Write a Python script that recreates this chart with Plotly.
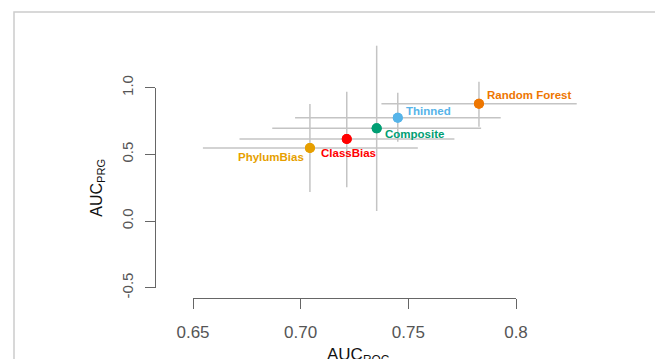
import plotly.graph_objects as go

# ---- data ----
methods = ["PhylumBias", "ClassBias", "Composite", "Thinned", "Random Forest"]
auc_roc = [0.7043, 0.7214, 0.7353, 0.7451, 0.7828]
auc_roc_lo = [0.6546, 0.6716, 0.6868, 0.6974, 0.7375]
auc_roc_hi = [0.7544, 0.7714, 0.7838, 0.7929, 0.8282]
auc_prg = [0.548, 0.615, 0.695, 0.775, 0.880]
auc_prg_lo = [0.218, 0.253, 0.075, 0.595, 0.707]
auc_prg_hi = [0.878, 0.970, 1.315, 0.963, 1.045]
colors = ["#E69F00", "#FF0000", "#009E73", "#56B4E9", "#EE7600"]
x_ticks = [0.65, 0.70, 0.75, 0.80]
x_ticktext = ["0.65", "0.70", "0.75", "0.8"]
y_ticks = [-0.5, 0.0, 0.5, 1.0]
y_ticktext = ["-0.5", "0.0", "0.5", "1.0"]
x_title = "AUC<sub>ROC</sub>"
y_title = "AUC<sub>PRG</sub>"

# label placement per method (style only)
lab_anchor = ["right", "center", "left", "left", "left"]
lab_xshift = [-4, 2, 6, 6, 6]
lab_yshift = [-9, -14, -6, 7, 9]

W, H = 655, 359
# pixel geometry
px_x065, px_x080 = 193, 516
px_y1, px_ym05 = 87.7, 287.7
sx = (px_x080 - px_x065) / 0.15
sy = (px_ym05 - px_y1) / 1.5
x_range = [0.65 - px_x065 / sx, 0.65 + (W - px_x065) / sx]
y_top = 1.0 + px_y1 / sy
y_range = [y_top - H / sy, y_top]

fig = go.Figure()
for i, m in enumerate(methods):
    fig.add_trace(go.Scatter(
        x=[auc_roc[i]], y=[auc_prg[i]], mode="markers", name=m,
        marker=dict(size=10, color=colors[i], line=dict(width=0)),
        error_x=dict(type="data", symmetric=False,
                     array=[auc_roc_hi[i] - auc_roc[i]],
                     arrayminus=[auc_roc[i] - auc_roc_lo[i]],
                     color="#c4c4c4", thickness=1.5, width=0),
        error_y=dict(type="data", symmetric=False,
                     array=[auc_prg_hi[i] - auc_prg[i]],
                     arrayminus=[auc_prg[i] - auc_prg_lo[i]],
                     color="#c4c4c4", thickness=1.5, width=0),
        showlegend=False, hoverinfo="skip",
    ))

# re-draw markers on top of all error bars
fig.add_trace(go.Scatter(x=auc_roc, y=auc_prg, mode="markers",
                         marker=dict(size=10, color=colors), showlegend=False,
                         hoverinfo="skip"))

# invisible carriers so the offset (R-style) axes get drawn
fig.add_trace(go.Scatter(x=auc_roc, y=auc_prg, xaxis="x2", yaxis="y", mode="markers",
                         marker=dict(opacity=0), showlegend=False, hoverinfo="skip"))
fig.add_trace(go.Scatter(x=auc_roc, y=auc_prg, xaxis="x", yaxis="y2", mode="markers",
                         marker=dict(opacity=0), showlegend=False, hoverinfo="skip"))

for i, m in enumerate(methods):
    fig.add_annotation(x=auc_roc[i], y=auc_prg[i], text="<b>%s</b>" % m,
                       showarrow=False, xanchor=lab_anchor[i], yanchor="middle",
                       xshift=lab_xshift[i], yshift=lab_yshift[i],
                       font=dict(family="Liberation Sans, Arial", size=11.5, color=colors[i]))

# x-axis title (R places it a fixed line below the offset axis)
fig.add_annotation(xref="paper", yref="paper", x=358 / W, y=1 - 343 / H,
                   xanchor="center", yanchor="top", text=x_title, showarrow=False,
                   font=dict(family="Liberation Sans, Arial", size=17, color="#111111"))

# outer frame
fig.add_shape(type="rect", xref="paper", yref="paper",
              x0=14 / W, x1=1.2, y0=-0.2, y1=1 - 12 / H,
              line=dict(color="#cccccc", width=1.5), fillcolor="rgba(0,0,0,0)", layer="below")

fig.update_layout(
    width=W, height=H, margin=dict(l=0, r=0, t=0, b=0, pad=0, autoexpand=False),
    paper_bgcolor="white", plot_bgcolor="rgba(0,0,0,0)", showlegend=False,
    font=dict(family="Liberation Sans, Arial", color="#555555"),
    xaxis=dict(domain=[0, 1], range=x_range, visible=False, fixedrange=True, automargin=False),
    yaxis=dict(domain=[0, 1], range=y_range, visible=False, fixedrange=True, automargin=False),
    xaxis2=dict(domain=[px_x065 / W, px_x080 / W], range=[0.65, 0.80], automargin=False,
                anchor="free", position=1 - 298 / H, side="bottom", fixedrange=True,
                showline=True, linecolor="#666666", linewidth=1,
                ticks="outside", ticklen=10, tickwidth=1, tickcolor="#666666",
                tickvals=x_ticks, ticktext=x_ticktext, showgrid=False, zeroline=False,
                tickfont=dict(size=17, color="#555555"), ticklabelstandoff=9),
    yaxis2=dict(domain=[1 - px_ym05 / H, 1 - px_y1 / H], range=[-0.5, 1.0], automargin=False,
                anchor="free", position=155 / W, side="left", fixedrange=True,
                showline=True, linecolor="#666666", linewidth=1,
                ticks="outside", ticklen=10, tickwidth=1, tickcolor="#666666",
                tickvals=y_ticks, ticktext=y_ticktext, tickangle=-90,
                showgrid=False, zeroline=False,
                tickfont=dict(size=15, color="#555555"), ticklabelstandoff=6,
                title=dict(text=y_title, font=dict(size=16, color="#111111"),
                           standoff=11)),
)

fig.write_html("out.html", config={"displayModeBar": False},
               post_script="document.body.style.margin='0px';")
